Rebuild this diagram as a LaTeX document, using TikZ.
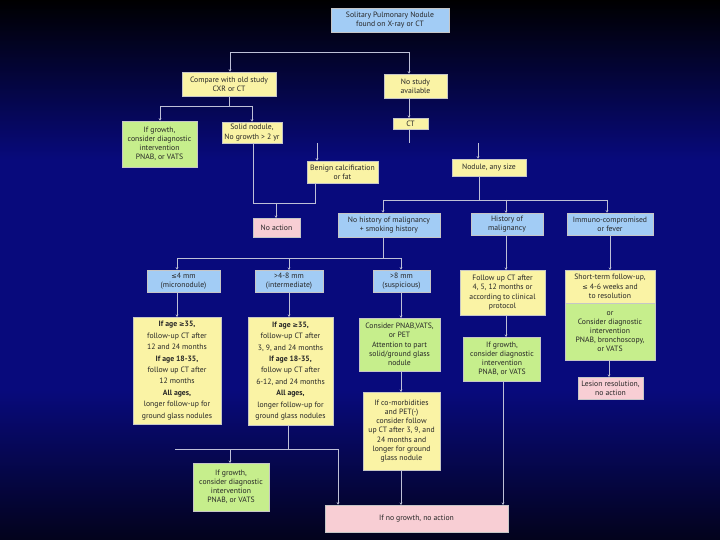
\documentclass[tikz,border=0pt]{standalone}
\usepackage{fontspec}
\setmainfont{PT Sans}
\newfontfamily\symfont{DejaVu Sans}
\usetikzlibrary{arrows.meta,positioning}
\definecolor{BoxYellow}{RGB}{250,243,165}
\definecolor{BoxGreen}{RGB}{198,238,140}
\definecolor{BoxBlue}{RGB}{162,204,245}
\definecolor{BoxPink}{RGB}{248,206,212}
\definecolor{LineGray}{RGB}{190,192,215}
\definecolor{SlideBlue}{RGB}{8,10,124}
\definecolor{SlideDark}{RGB}{3,3,28}
\newcommand{\geqs}{{\symfont\fontsize{6.6}{9}\selectfont ≥}}
\newcommand{\leqs}{{\symfont\fontsize{6.6}{9}\selectfont ≤}}

\tikzset{
  box/.style={draw=gray!45, line width=0.5pt, align=center, inner sep=1pt,
    text=black!85, font=\fontsize{7.7}{9.2}\selectfont},
  ybox/.style={box, fill=BoxYellow},
  gbox/.style={box, fill=BoxGreen},
  bbox/.style={box, fill=BoxBlue},
  pbox/.style={box, fill=BoxPink},
  agefont/.style={font=\fontsize{7.7}{11.4}\selectfont},
  wire/.style={LineGray, line width=0.9pt},
  arr/.style={wire, -{Stealth[length=2.5pt,width=2.5pt]}},
}

\begin{document}
\begin{tikzpicture}[x=1pt, y=-1pt]
    \useasboundingbox (0,0) rectangle (720,540);
    % Background
    \fill[SlideBlue] (0,0) rectangle (720,540);
    \shade[top color=black, bottom color=SlideBlue] (0,0) rectangle (720,160);
    \shade[top color=SlideBlue, bottom color=SlideDark] (0,390) rectangle (720,540);

    % Top
    \node[bbox, minimum width=118, minimum height=24] (title) at (390,20) {Solitary Pulmonary Nodule\\found on X-ray or CT};
    \node[ybox, minimum width=94, minimum height=24] (compare) at (229,84) {Compare with old study\\CXR or CT};
    \node[ybox, minimum width=63, minimum height=24] (nostudy) at (415.5,86) {No study\\available};

    % Old study branch
    \node[gbox, minimum width=75, minimum height=46] (growthA) at (159.5,144) {If growth,\\consider diagnostic\\intervention\\PNAB, or VATS};
    \node[ybox, minimum width=60, minimum height=21] (solid) at (252,132.5) {Solid nodule,\\No growth > 2 yr};
    \node[ybox, minimum width=71, minimum height=22] (benign) at (342.5,172) {Benign calcification\\or fat};
    \node[pbox, minimum width=47, minimum height=19] (noaction) at (276.5,227.5) {No action};

    % CT branch
    \node[ybox, minimum width=35, minimum height=11] (ct) at (410.5,123.5) {CT};
    \node[ybox, minimum width=74, minimum height=17] (nodule) at (489,167.5) {Nodule, any size};
    \node[bbox, minimum width=102, minimum height=24] (nohist) at (389,225) {No history of malignancy\\+ smoking history};
    \node[bbox, minimum width=72, minimum height=22] (hist) at (507,224) {History of\\malignancy};
    \node[bbox, minimum width=86, minimum height=22] (immuno) at (610,224) {Immuno-compromised\\or fever};

    % Size classes
    \node[bbox, minimum width=73, minimum height=22] (micro) at (183.5,281) {\leqs4 mm\\(micronodule)};
    \node[bbox, minimum width=68, minimum height=22] (inter) at (289,281) {>4-8 mm\\(intermediate)};
    \node[bbox, minimum width=57, minimum height=22] (susp) at (401.5,281) {>8 mm\\(suspicious)};

    \node[ybox, agefont, minimum width=88, minimum height=107] (ageA) at (177,370.5)
      {\textbf{If age \geqs35,}\\follow-up CT after\\12 and 24 months\\\textbf{If age 18-35,}\\follow up CT after\\12 months\\\textbf{All ages,}\\longer follow-up for\\ground glass nodules};
    \node[ybox, agefont, minimum width=85, minimum height=108] (ageB) at (290.5,371)
      {\textbf{If age \geqs35,}\\follow-up CT after\\3, 9, and 24 months\\\textbf{If age 18-35,}\\follow up CT after\\6-12, and 24 months\\\textbf{All ages,}\\longer follow-up for\\ground glass nodules};
    \node[gbox, minimum width=81, minimum height=53] (pnab) at (399.5,344.5)
      {Consider PNAB,VATS,\\or PET\\Attention to part\\solid/ground glass\\nodule};
    \node[ybox, minimum width=77, minimum height=78] (comorb) at (401.5,431)
      {If co-morbidities\\and PET(-)\\consider follow\\up CT after 3, 9, and\\24 months and\\longer for ground\\glass nodule};
    \node[gbox, minimum width=76, minimum height=48] (growthC) at (231,487) {If growth,\\consider diagnostic\\intervention\\PNAB, or VATS};

    % Malignancy / immuno branch
    \node[ybox, minimum width=85, minimum height=45] (followup) at (502.5,292.5)
      {Follow up CT after\\4, 5, 12 months or\\according to clinical\\protocol};
    \node[gbox, minimum width=77, minimum height=44] (growthB) at (502,359) {If growth,\\consider diagnostic\\intervention\\PNAB, or VATS};
    \node[ybox, minimum width=90, minimum height=33] (shortterm) at (610,286.5)
      {Short-term follow-up,\\\leqs\ 4-6 weeks and\\to resolution};
    \node[gbox, minimum width=90, minimum height=57] (shortalt) at (610,331.5)
      {or\\Consider diagnostic\\intervention\\PNAB, bronchoscopy,\\or VATS};
    \node[pbox, minimum width=65, minimum height=22] (lesion) at (610.5,388) {Lesion resolution,\\no action};

    \node[pbox, minimum width=183, minimum height=27] (nogrowth) at (416.5,518.5) {If no growth, no action};

    % Connectors
    \coordinate (splitA) at (230,52);
    \coordinate (splitB) at (409,52);
    \draw[wire] (splitA) -- (splitB);
    \draw[arr] (splitA) -- (splitA |- compare.north);
    \draw[arr] (splitB) -- (splitB |- nostudy.north);

    \coordinate (cmpL) at (160,106);
    \coordinate (cmpR) at (252,106);
    \draw[wire] (compare.south -| 229,0) -- (229,106);
    \draw[wire] (cmpL) -- (cmpR);
    \draw[arr] (cmpL) -- (cmpL |- growthA.north);
    \draw[arr] (cmpR) -- (cmpR |- solid.north);

    \draw[arr] (409,98) -- (409,118);
    \coordinate (ctEnd) at (409,143);
    \draw[wire] (ct.south -| ctEnd) -- (ctEnd);
    \coordinate (benTop) at (317,143);
    \coordinate (nodTop) at (478,143);
    \draw[arr] (benTop) -- (benTop |- benign.north);
    \draw[arr] (nodTop) -- (nodTop |- nodule.north);

    \coordinate (joinL) at (253,203);
    \coordinate (joinR) at (315,203);
    \draw[wire] (solid.south -| joinL) -- (joinL) -- (joinR) -- (benign.south -| joinR);
    \draw[arr] (276,203) -- (276 ,218);

    \coordinate (sizeL) at (383,200);
    \coordinate (sizeR) at (607,200);
    \draw[wire] (nodule.south -| 479,0) -- (479,200);
    \draw[wire] (sizeL) -- (sizeR);
    \draw[arr] (sizeL) -- (sizeL |- nohist.north);
    \draw[arr] (506,200) -- (506,213);
    \draw[arr] (sizeR) -- (sizeR |- immuno.north);

    \coordinate (mmL) at (177,258);
    \coordinate (mmR) at (401,258);
    \draw[wire] (nohist.south -| sizeL) -- (383,258);
    \draw[wire] (mmL) -- (mmR);
    \draw[arr] (mmL) -- (mmL |- micro.north);
    \draw[arr] (289,258) -- (289,270);
    \draw[arr] (mmR) -- (mmR |- susp.north);

    \draw[arr] (506,235) -- (506,270);
    \draw[arr] (610,235) -- (610,270);
    \draw[arr] (177,292) -- (177,317);
    \draw[arr] (289,292) -- (289,317);
    \draw[arr] (401,292) -- (401,318);
    \draw[arr] (506,315) -- (506,337);
    \draw[arr] (609,360) -- (609,377);
    \draw[arr] (401,371) -- (401,392);
    \draw[arr] (401,470) -- (401,505);
    \draw[arr] (503,381) -- (503,505);

    \coordinate (endL) at (175,449);
    \coordinate (endR) at (338,449);
    \draw[wire] (ageB.south -| 288,0) -- (288,449);
    \draw[wire] (endL) -- (endR);
    \draw[arr] (230,449) -- (230,463);
    \draw[arr] (endR) -- (endR |- nogrowth.north);
\end{tikzpicture}
\end{document}
